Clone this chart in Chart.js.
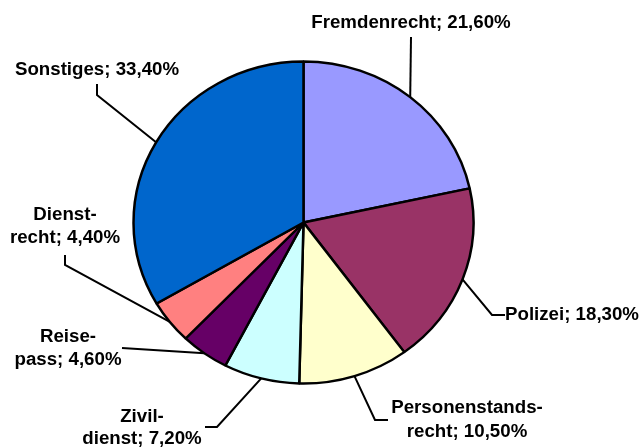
<!DOCTYPE html>
<html>
<head>
<meta charset="utf-8">
<script src="https://cdn.jsdelivr.net/npm/chart.js@4/dist/chart.umd.min.js"></script>
<style>
  html, body { margin: 0; padding: 0; background: #fff; }
  #wrap { width: 641px; height: 447px; }
</style>
</head>
<body>
<div id="wrap"><canvas id="pieChart" width="641" height="447"></canvas></div>
<script>
// Datos
const categorias = ['Fremdenrecht', 'Polizei', 'Personenstandsrecht', 'Zivildienst', 'Reisepass', 'Dienstrecht', 'Sonstiges'];
const anteile = [21.6, 18.3, 10.5, 7.2, 4.6, 4.4, 33.4];
const etiquetas = [
    ['Fremdenrecht; 21,60%'],
    ['Polizei; 18,30%'],
    ['Personenstands-', 'recht; 10,50%'],
    ['Zivil-', 'dienst; 7,20%'],
    ['Reise-', 'pass; 4,60%'],
    ['Dienst-', 'recht; 4,40%'],
    ['Sonstiges; 33,40%']
];
const colores = ['#9999FF', '#993366', '#FFFFCC', '#CCFFFF', '#660066', '#FF8080', '#0066CC'];

// Layout de las etiquetas (posición del texto y quiebres de la línea guía)
const layoutEtiquetas = [
    { x: 411, y: 23, align: 'center', lineH: 23, guia: [[411, 37]] },
    { x: 505, y: 315, align: 'left', lineH: 23, guia: [[492, 315], [505, 315]] },
    { x: 467, y: 408, align: 'center', lineH: 24, guia: [[375, 420], [388, 420]] },
    { x: 142, y: 417, align: 'center', lineH: 22, guia: [[217, 427], [205, 427]] },
    { x: 68, y: 337, align: 'center', lineH: 23, guia: [[122, 348]] },
    { x: 65, y: 215, align: 'center', lineH: 23, guia: [[65, 265], [65, 255]] },
    { x: 97, y: 70, align: 'center', lineH: 23, guia: [[97, 95], [97, 84]] }
];

const escalaY = 161 / 170;

// Achata el pie verticalmente (el original es levemente elíptico)
const elipse = {
    id: 'elipse',
    beforeDatasetsDraw(chart) {
        const arc = chart.getDatasetMeta(0).data[0];
        const ctx = chart.ctx;
        ctx.save();
        ctx.translate(0, arc.y);
        ctx.scale(1, escalaY);
        ctx.translate(0, -arc.y);
    },
    afterDatasetsDraw(chart) {
        chart.ctx.restore();
    }
};

const guias = {
    id: 'guias',
    afterDraw(chart) {
        const ctx = chart.ctx;
        const meta = chart.getDatasetMeta(0);
        ctx.save();
        ctx.strokeStyle = '#000';
        ctx.lineWidth = 2;
        ctx.fillStyle = '#000';
        ctx.font = 'bold 18.7px "Liberation Sans", Arial, sans-serif';
        ctx.textBaseline = 'middle';
        meta.data.forEach((arc, i) => {
            const mid = (arc.startAngle + arc.endAngle) / 2;
            const px = arc.x + Math.cos(mid) * arc.outerRadius;
            const py = arc.y + Math.sin(mid) * arc.outerRadius * escalaY;
            const l = layoutEtiquetas[i];
            ctx.beginPath();
            ctx.moveTo(px, py);
            l.guia.forEach(p => ctx.lineTo(p[0], p[1]));
            ctx.stroke();
            ctx.textAlign = l.align;
            etiquetas[i].forEach((t, k) => ctx.fillText(t, l.x, l.y + k * l.lineH));
        });
        ctx.restore();
    }
};

new Chart(document.getElementById('pieChart'), {
    type: 'pie',
    data: {
        labels: categorias,
        datasets: [{
            data: anteile,
            backgroundColor: colores,
            borderColor: '#000',
            borderWidth: 2.5,
            hoverOffset: 0
        }]
    },
    options: {
        responsive: false,
        animation: false,
        radius: 170,
        layout: { padding: { left: 1, right: 35, top: 1, bottom: 3 } },
        plugins: {
            legend: { display: false },
            tooltip: { enabled: false }
        }
    },
    plugins: [elipse, guias]
});
</script>
</body>
</html>
